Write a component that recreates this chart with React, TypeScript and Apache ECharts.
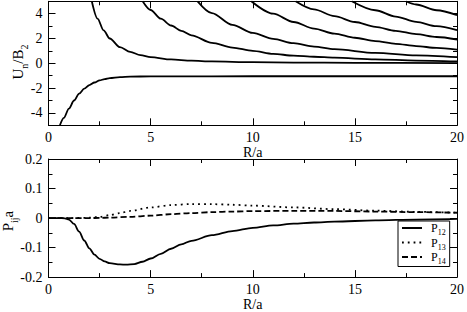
import React, { useEffect, useRef } from 'react';
import * as echarts from 'echarts';

// ---- data ----
const xTickValues = [0, 5, 10, 15, 20];

const uLower = [[0.56, -5], [0.75, -4.4], [1.0, -3.65], [1.25, -3.0], [1.5, -2.45], [1.75, -2.05], [2, -1.76], [2.25, -1.55], [2.5, -1.38], [2.75, -1.27], [3, -1.19], [3.5, -1.11], [4, -1.075], [5, -1.055], [6, -1.05], [10, -1.045], [20, -1.045]];
const u1 = [[2.12, 5], [2.4, 3.6], [2.7, 2.65], [3, 2.0], [3.5, 1.3], [4, 0.92], [4.5, 0.66], [5, 0.5], [6, 0.31], [7, 0.21], [8, 0.15], [10, 0.09], [12, 0.06], [15, 0.04], [20, 0.02]];
const u2 = [[4.61, 5], [5, 4.3], [5.5, 3.6], [6, 3.05], [6.5, 2.62], [7, 2.25], [8, 1.65], [9, 1.27], [10, 1.0], [11, 0.76], [12, 0.62], [13, 0.53], [14, 0.45], [16, 0.32], [18, 0.22], [20, 0.15]];
const u3 = [[7.3, 5], [8, 4.05], [9, 3.1], [10, 2.45], [11, 1.97], [12, 1.62], [13, 1.35], [14, 1.14], [16, 0.84], [18, 0.64], [20, 0.49]];
const u4 = [[9.93, 5], [11, 4.0], [12, 3.33], [13, 2.8], [14, 2.39], [15, 2.06], [16, 1.79], [17, 1.57], [18, 1.39], [19, 1.24], [20, 1.11]];
const u5 = [[12.1, 5], [13, 4.35], [14, 3.8], [15, 3.33], [16, 2.94], [17, 2.62], [18, 2.35], [19, 2.12], [20, 1.92]];
const u6 = [[14.85, 5], [16, 4.28], [17, 3.77], [18, 3.34], [19, 2.99], [20, 2.68]];
const u7 = [[17.5, 5], [18, 4.74], [19, 4.28], [20, 3.89]];

const p12 = [[0, 0], [0.5, 0], [0.8, -0.001], [1, -0.005], [1.25, -0.02], [1.5, -0.046], [1.75, -0.076], [2, -0.103], [2.25, -0.124], [2.5, -0.138], [2.75, -0.147], [3, -0.153], [3.5, -0.157], [3.8, -0.158], [4.2, -0.156], [4.6, -0.148], [5, -0.137], [5.5, -0.121], [6, -0.104], [6.5, -0.089], [7, -0.077], [8, -0.058], [9, -0.044], [10, -0.033], [11, -0.025], [12, -0.019], [13, -0.015], [14, -0.012], [16, -0.008], [18, -0.005], [20, -0.003]];
const p13 = [[0, 0], [1, 0], [2, 0.001], [2.5, 0.004], [3, 0.01], [3.5, 0.017], [4, 0.024], [5, 0.036], [6, 0.044], [7, 0.0475], [8, 0.047], [9, 0.045], [10, 0.042], [12, 0.036], [14, 0.03], [16, 0.025], [18, 0.021], [20, 0.018]];
const p14 = [[0, 0], [1, 0], [2, 0], [2.5, 0.0005], [3, 0.0015], [4, 0.004], [5, 0.008], [6, 0.013], [7, 0.017], [8, 0.02], [9, 0.022], [10, 0.0235], [12, 0.0245], [14, 0.024], [16, 0.022], [18, 0.02], [20, 0.018]];

const legendNames = ['P12', 'P13', 'P14'];
const topYName = '{m|U}{s|n}{m|/B}{s|2}';
const bottomYName = '{m|P}{s|ij}{m|a}';

const FONT = 'serif';
const BLACK = '#000';

const nameRich = {
  m: { fontSize: 15, lineHeight: 23, verticalAlign: 'middle', fontFamily: FONT, fill: BLACK },
  s: { fontSize: 10, lineHeight: 10, verticalAlign: 'bottom', fontFamily: FONT, fill: BLACK },
};

function xAxisDef(grid: number, pos: 'top' | 'bottom', labels: boolean) {
  return {
    type: 'value', gridIndex: grid, position: pos,
    min: xTickValues[0], max: xTickValues[xTickValues.length - 1], interval: 5,
    axisLine: { show: true, onZero: false, lineStyle: { color: BLACK, width: 1 } },
    axisTick: { show: true, inside: true, length: 7, lineStyle: { color: BLACK, width: 1 } },
    minorTick: { show: true, splitNumber: 2, length: 4, lineStyle: { color: BLACK, width: 1 } },
    splitLine: { show: false }, minorSplitLine: { show: false },
    axisLabel: { show: labels, color: BLACK, fontFamily: FONT, fontSize: 14, margin: 5 },
    name: labels ? 'R/a' : '', nameLocation: 'middle', nameGap: 16,
    nameTextStyle: { color: BLACK, fontFamily: FONT, fontSize: 14 },
  };
}

function yMajorTop(pos: 'left' | 'right', labels: boolean) {
  return {
    type: 'value', gridIndex: 0, position: pos, min: -5, max: 5,
    splitNumber: 5, minInterval: 2, maxInterval: 2,
    axisLine: { show: true, onZero: false, lineStyle: { color: BLACK, width: 1 } },
    axisTick: { show: true, inside: true, length: 7, lineStyle: { color: BLACK, width: 1 } },
    splitLine: { show: false },
    axisLabel: { show: labels, color: BLACK, fontFamily: FONT, fontSize: 14, margin: 6, showMinLabel: false, showMaxLabel: false },
  };
}

function yMinorTop(pos: 'left' | 'right') {
  return {
    type: 'value', gridIndex: 0, position: pos, min: -5, max: 5, interval: 1,
    axisLine: { show: false, onZero: false },
    axisTick: { show: true, inside: true, length: 4, lineStyle: { color: BLACK, width: 1 } },
    splitLine: { show: false },
    axisLabel: { show: false },
  };
}

function yBottom(pos: 'left' | 'right', labels: boolean) {
  return {
    type: 'value', gridIndex: 1, position: pos, min: -0.2, max: 0.2, interval: 0.1,
    axisLine: { show: true, onZero: false, lineStyle: { color: BLACK, width: 1 } },
    axisTick: { show: true, inside: true, length: 7, lineStyle: { color: BLACK, width: 1 } },
    minorTick: { show: true, splitNumber: 2, length: 4, lineStyle: { color: BLACK, width: 1 } },
    splitLine: { show: false }, minorSplitLine: { show: false },
    axisLabel: { show: labels, color: BLACK, fontFamily: FONT, fontSize: 14, margin: 6 },
  };
}

function topSeries(name: string, data: number[][]) {
  return {
    name, type: 'line', xAxisIndex: 0, yAxisIndex: 0, data,
    showSymbol: false, symbol: 'none', smooth: 0.3, smoothMonotone: 'x',
    lineStyle: { color: BLACK, width: 1.8 }, itemStyle: { color: BLACK },
  };
}

function bottomSeries(name: string, data: number[][], type: any) {
  return {
    name, type: 'line', xAxisIndex: 2, yAxisIndex: 4, data,
    showSymbol: false, symbol: 'none', smooth: 0.3, smoothMonotone: 'x',
    lineStyle: { color: BLACK, width: 1.8, type }, itemStyle: { color: BLACK },
  };
}

export default function App() {
  const ref = useRef<HTMLDivElement>(null);
  useEffect(() => {
    if (!ref.current) return;
    const chart = echarts.init(ref.current, undefined, { renderer: 'svg' });
    chart.setOption({
      animation: false,
      backgroundColor: '#fff',
      textStyle: { fontFamily: FONT },
      grid: [
        { left: 48.5, top: 1.3, width: 409.8, height: 124 },
        { left: 48.5, top: 159, width: 409.8, height: 123.7 },
      ],
      xAxis: [
        xAxisDef(0, 'bottom', true),
        xAxisDef(0, 'top', false),
        xAxisDef(1, 'bottom', true),
        xAxisDef(1, 'top', false),
      ],
      yAxis: [
        yMajorTop('left', true),
        yMinorTop('left'),
        yMajorTop('right', false),
        yMinorTop('right'),
        yBottom('left', true),
        yBottom('right', false),
      ],
      graphic: [
        {
          type: 'text', x: 17.5, y: 62, rotation: Math.PI / 2,
          style: { text: topYName, rich: nameRich, align: 'center', verticalAlign: 'middle', fill: BLACK, font: `15px ${FONT}` },
        },
        {
          type: 'text', x: 7.5, y: 221, rotation: Math.PI / 2,
          style: { text: bottomYName, rich: nameRich, align: 'center', verticalAlign: 'middle', fill: BLACK, font: `15px ${FONT}` },
        },
      ],
      legend: {
        show: true, data: legendNames, orient: 'vertical', left: 398, top: 221,
        itemWidth: 20, itemHeight: 10, itemGap: 0, padding: [1, 4, 1, 3],
        borderColor: BLACK, borderWidth: 1, borderRadius: 0, backgroundColor: '#fff',
        itemStyle: { opacity: 0 },
        formatter: (n: string) => `{m|P}{s|${n.slice(1)}}`,
        textStyle: {
          color: BLACK, fontFamily: FONT,
          rich: {
            m: { fontSize: 12, lineHeight: 17, fontFamily: FONT, color: BLACK, padding: [0, 0, 0, 4] },
            s: { fontSize: 8, lineHeight: 11, verticalAlign: 'bottom', fontFamily: FONT, color: BLACK },
          },
        },
      },
      series: [
        topSeries('U0', uLower),
        topSeries('U1', u1),
        topSeries('U2', u2),
        topSeries('U3', u3),
        topSeries('U4', u4),
        topSeries('U5', u5),
        topSeries('U6', u6),
        topSeries('U7', u7),
        bottomSeries('P12', p12, 'solid'),
        bottomSeries('P13', p13, [1.8, 4]),
        bottomSeries('P14', p14, [6, 3]),
      ],
    });
    return () => chart.dispose();
  }, []);
  return (
    <div
      ref={ref}
      style={{ position: 'fixed', left: 0, top: 0, width: 467, height: 312, background: '#fff' }}
    />
  );
}
